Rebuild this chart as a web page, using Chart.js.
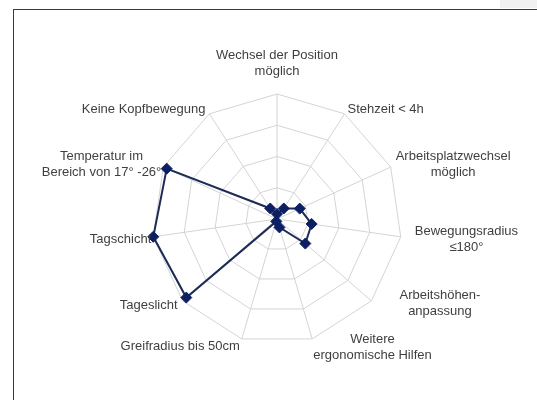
<!DOCTYPE html>
<html>
<head>
<meta charset="utf-8">
<script src="https://cdn.jsdelivr.net/npm/chart.js@4.4.1/dist/chart.umd.min.js"></script>
<style>
  html, body { margin: 0; padding: 0; background: #ffffff; }
  #wrap { position: relative; width: 537px; height: 400px; overflow: hidden; background: #fff; }
  #frame { position: absolute; left: 13px; top: 9px; width: 600px; height: 500px;
           border-left: 1px solid #3c3c3c; border-top: 1px solid #3c3c3c; }
  #corner { position: absolute; left: 500px; top: 0; width: 37px; height: 8px; background: #f1f1f1; }
  canvas { position: absolute; left: 0; top: 0; }
</style>
</head>
<body>
<div id="wrap">
  <div id="corner"></div>
  <div id="frame"></div>
  <canvas id="c" width="537" height="400"></canvas>
</div>
<script>
// ---- data ----
const categories = [
  ['Wechsel der Position', 'möglich'],
  'Stehzeit < 4h',
  ['Arbeitsplatzwechsel', 'möglich'],
  ['Bewegungsradius', '≤180°'],
  ['Arbeitshöhen-', 'anpassung'],
  ['Weitere', 'ergonomische Hilfen'],
  'Greifradius bis 50cm',
  'Tageslicht',
  'Tagschicht',
  ['Temperatur im', 'Bereich von 17° -26°'],
  'Keine Kopfbewegung'
];
const values = [4, 10, 20, 28, 30, 7, 2, 96, 100, 97, 10];
const scaleMin = 0;
const scaleMax = 100;
const scaleStep = 25;

// ---- label layout (alignment and offset from axis end) ----
const labelLayout = [
  ['center', 0, -30.5],
  ['left', 3, -4.5],
  ['left', 5, -2.5],
  ['left', 14, 3],
  ['left', 28, 3],
  ['left', 1, 8],
  ['right', -2, 7],
  ['right', -5, 5],
  ['right', -2, 3],
  ['right', -2, -2.5],
  ['right', -4, -4.5]
];
const LINE_H = 16;

const axisLabelPlugin = {
  id: 'axisLabels',
  afterDraw(chart) {
    const s = chart.scales.r;
    const ctx = chart.ctx;
    ctx.save();
    ctx.font = '13px "Liberation Sans", Arial, sans-serif';
    ctx.fillStyle = '#3f3f3f';
    ctx.textBaseline = 'middle';
    ctx.textAlign = 'center';
    categories.forEach((lab, i) => {
      const p = s.getPointPosition(i, s.drawingArea);
      const [align, dx, dy] = labelLayout[i];
      const lines = Array.isArray(lab) ? lab : [lab];
      const w = Math.max(...lines.map(l => ctx.measureText(l).width));
      let cx;
      if (align === 'left') cx = p.x + dx + w / 2;
      else if (align === 'right') cx = p.x + dx - w / 2;
      else cx = p.x + dx;
      const cy = p.y + dy;
      lines.forEach((l, k) => {
        ctx.fillText(l, cx, cy + (k - (lines.length - 1) / 2) * LINE_H);
      });
    });
    ctx.restore();
  }
};

new Chart(document.getElementById('c'), {
  type: 'radar',
  data: {
    labels: categories,
    datasets: [{
      data: values,
      borderColor: '#1e2b55',
      borderWidth: 2,
      backgroundColor: 'rgba(0,0,0,0)',
      fill: false,
      pointStyle: 'rectRot',
      pointRadius: 5.5,
      pointHoverRadius: 5.5,
      pointBackgroundColor: '#0c1f63',
      pointBorderColor: '#0c1f63',
      pointBorderWidth: 1,
      tension: 0
    }]
  },
  options: {
    responsive: false,
    animation: false,
    devicePixelRatio: 1,
    layout: { padding: { left: 152, top: 94, right: 135, bottom: 56 } },
    plugins: { legend: { display: false }, tooltip: { enabled: false } },
    scales: {
      r: {
        min: scaleMin,
        max: scaleMax,
        ticks: { display: false, stepSize: scaleStep },
        grid: { color: '#d4d4d4', lineWidth: 1 },
        angleLines: { color: '#d4d4d4', lineWidth: 1 },
        pointLabels: { display: false }
      }
    }
  },
  plugins: [axisLabelPlugin]
});
</script>
</body>
</html>
